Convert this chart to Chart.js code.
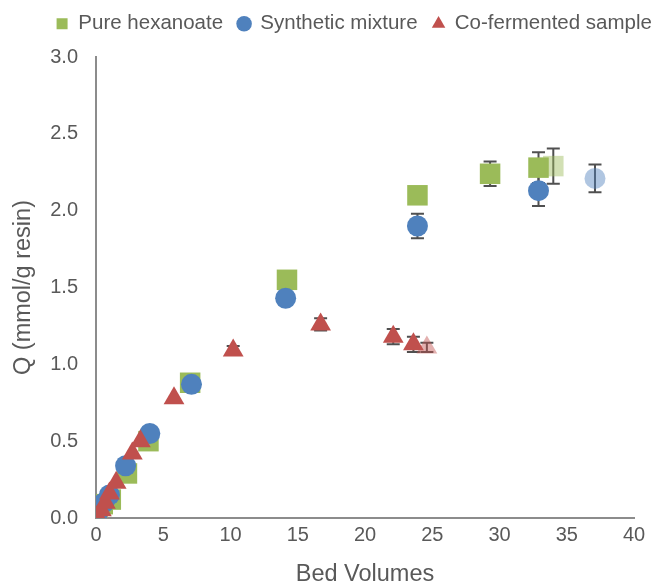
<!DOCTYPE html>
<html>
<head>
<meta charset="utf-8">
<script src="https://cdn.jsdelivr.net/npm/chart.js@4.4.0/dist/chart.umd.min.js"></script>
<style>
body{margin:0;background:#fff;}
#wrap{width:656px;height:585px;position:relative;}
</style>
</head>
<body>
<div id="wrap"><canvas id="c"></canvas></div>
<script>
// Pure hexanoate
var hexX=[0.1,0.5,1.1,2.3,3.9,7.0,14.2,23.9,29.3,32.9,34.0];
var hexY=[0.04,0.09,0.12,0.29,0.50,0.88,1.55,2.10,2.24,2.28,2.29];
var hexErr=[0,0,0,0,0,0,0,0,0.08,0.10,0.115];
var hexFaded=[10];
// Synthetic mixture
var mixX=[0.1,0.6,1.0,2.2,4.0,7.1,14.1,23.9,32.9,37.1];
var mixY=[0.03,0.10,0.15,0.34,0.55,0.87,1.43,1.90,2.13,2.21];
var mixErr=[0,0,0,0,0,0,0,0.08,0.10,0.09];
var mixFaded=[9];
// Co-fermented sample
var cofX=[0.1,0.4,0.7,1.0,1.5,2.7,3.3,5.8,10.2,16.7,22.1,23.6,24.6];
var cofY=[0.01,0.05,0.10,0.16,0.23,0.42,0.50,0.78,1.09,1.26,1.18,1.13,1.11];
var cofErr=[0,0,0,0,0,0,0,0,0.03,0.04,0.05,0.05,0.03];
var cofFaded=[12];

var xTicks=[0,5,10,15,20,25,30,35,40];
var yTicks=[0,0.5,1,1.5,2,2.5,3];

var textColor='#595959';
var fontName="'Liberation Sans', Arial, sans-serif";

function pts(xs,ys){
    var out=[];
    for(var i=0;i<xs.length;i++){ out.push({x:xs[i],y:ys[i]}); }
    return out;
}
function colors(n,faded,solid,light){
    var out=[];
    for(var i=0;i<n;i++){ out.push(faded.indexOf(i)>=0 ? light : solid); }
    return out;
}

// error bars drawn under the markers
var errorBars={
    id:'errorBars',
    beforeDatasetsDraw:function(chart){
        var ctx=chart.ctx, xs=chart.scales.x, ys=chart.scales.y;
        var sets=[[hexX,hexY,hexErr],[mixX,mixY,mixErr],[cofX,cofY,cofErr]];
        ctx.save();
        ctx.strokeStyle='#505050';
        ctx.lineWidth=2;
        sets.forEach(function(s){
            for(var i=0;i<s[0].length;i++){
                if(!s[2][i]) continue;
                var px=xs.getPixelForValue(s[0][i]);
                var top=ys.getPixelForValue(s[1][i]+s[2][i]);
                var bot=ys.getPixelForValue(s[1][i]-s[2][i]);
                ctx.beginPath();
                ctx.moveTo(px,top);ctx.lineTo(px,bot);
                ctx.moveTo(px-6.5,top);ctx.lineTo(px+6.5,top);
                ctx.moveTo(px-6.5,bot);ctx.lineTo(px+6.5,bot);
                ctx.stroke();
            }
        });
        ctx.restore();
    }
};

// nudge the legend row to where it sits in the original
var shiftLegend={
    id:'shiftLegend',
    afterLayout:function(chart){
        chart.legend.left+=26;
        chart.legend.right+=26;
        chart.legend.top-=13;
        chart.legend.bottom-=13;
    }
};

new Chart(document.getElementById('c').getContext('2d'),{
    type:'scatter',
    data:{
        datasets:[
            {
                label:'Co-fermented sample',
                data:pts(cofX,cofY),
                pointStyle:'triangle',
                pointRadius:12,
                backgroundColor:'#C0504D',
                pointBackgroundColor:colors(cofX.length,cofFaded,'#C0504D','rgba(192,80,77,0.45)'),
                pointBorderWidth:0,
                borderWidth:0
            },
            {
                label:'Synthetic mixture',
                data:pts(mixX,mixY),
                pointStyle:'circle',
                pointRadius:10.5,
                backgroundColor:'#4F81BD',
                pointBackgroundColor:colors(mixX.length,mixFaded,'#4F81BD','rgba(79,129,189,0.45)'),
                pointBorderWidth:0,
                borderWidth:0
            },
            {
                label:'Pure hexanoate',
                data:pts(hexX,hexY),
                pointStyle:'rect',
                pointRadius:14.5,
                backgroundColor:'#9BBB59',
                pointBackgroundColor:colors(hexX.length,hexFaded,'#9BBB59','rgba(155,187,89,0.45)'),
                pointBorderWidth:0,
                borderWidth:0
            }
        ]
    },
    options:{
        responsive:true,
        maintainAspectRatio:false,
        animation:false,
        events:[],
        layout:{padding:0},
        plugins:{
            tooltip:{enabled:false},
            legend:{
                position:'top',
                align:'center',
                labels:{
                    usePointStyle:true,
                    boxWidth:12,
                    boxHeight:11,
                    padding:15,
                    color:textColor,
                    font:{family:fontName,size:20.5},
                    sort:function(a,b){return b.datasetIndex-a.datasetIndex;}
                }
            }
        },
        scales:{
            x:{
                type:'linear',
                min:0,max:40,
                afterBuildTicks:function(s){ s.ticks=xTicks.map(function(v){return {value:v};}); },
                afterFit:function(s){ s.height=67; s.paddingRight=22; },
                grid:{display:false,drawTicks:false},
                border:{display:true,color:'#8c8c8c',width:2},
                ticks:{color:textColor,padding:5,font:{family:fontName,size:20}},
                title:{display:true,text:'Bed Volumes',color:textColor,padding:{top:0,bottom:-4},font:{family:fontName,size:23.5}}
            },
            y:{
                type:'linear',
                min:0,max:3,
                afterBuildTicks:function(s){ s.ticks=yTicks.map(function(v){return {value:v};}); },
                afterFit:function(s){ s.width=96; s.paddingTop=57; },
                grid:{display:false,drawTicks:false},
                border:{display:true,color:'#8c8c8c',width:2},
                ticks:{color:textColor,padding:18,font:{family:fontName,size:20},callback:function(v){return Number(v).toFixed(1);}},
                title:{display:true,text:'Q (mmol/g resin)',color:textColor,padding:{top:9,bottom:0},font:{family:fontName,size:23.5}}
            }
        }
    },
    plugins:[errorBars,shiftLegend]
});
</script>
</body>
</html>
